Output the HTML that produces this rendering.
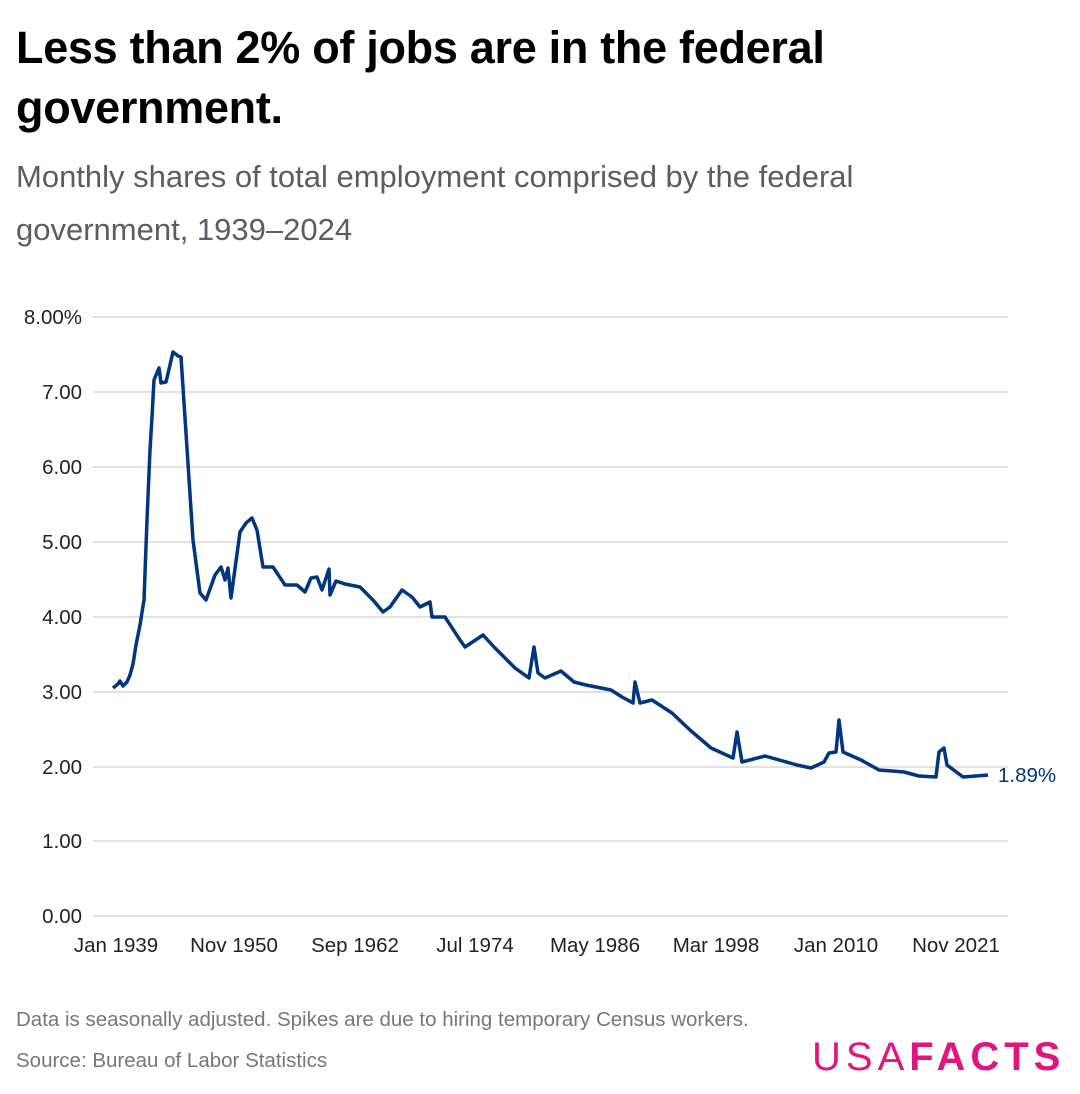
<!DOCTYPE html>
<html><head><meta charset="utf-8"><style>
body{margin:0;width:1080px;height:1094px;background:#fff;font-family:"Liberation Sans",sans-serif;overflow:hidden;position:relative}
.t{position:absolute;left:16px;top:18px;font-size:45px;font-weight:bold;line-height:60px;color:#000;letter-spacing:-0.3px}
.s{position:absolute;left:16px;top:150px;font-size:31px;line-height:53px;color:#5c5c66}
.f{position:absolute;left:16px;font-size:20.5px;color:#777}
</style></head><body>
<div class="t">Less than 2% of jobs are in the federal<br>government.</div>
<div class="s">Monthly shares of total employment comprised by the federal<br>government, 1939–2024</div>
<svg width="1080" height="1094" style="position:absolute;left:0;top:0" font-family="Liberation Sans, sans-serif">
<g stroke="#d9d9d9" stroke-width="1.5">
<line x1="93" x2="1008" y1="317" y2="317"/><line x1="93" x2="1008" y1="392" y2="392"/><line x1="93" x2="1008" y1="467" y2="467"/><line x1="93" x2="1008" y1="542" y2="542"/><line x1="93" x2="1008" y1="617" y2="617"/><line x1="93" x2="1008" y1="692" y2="692"/><line x1="93" x2="1008" y1="767" y2="767"/><line x1="93" x2="1008" y1="841" y2="841"/><line x1="93" x2="1008" y1="916" y2="916"/>
</g>
<g font-size="20.5" fill="#222" text-anchor="end">
<text x="82" y="324">8.00%</text><text x="82" y="399">7.00</text><text x="82" y="474">6.00</text><text x="82" y="549">5.00</text><text x="82" y="624">4.00</text><text x="82" y="699">3.00</text><text x="82" y="774">2.00</text><text x="82" y="848">1.00</text><text x="82" y="923">0.00</text>
</g>
<g font-size="20.5" fill="#222" text-anchor="middle">
<text x="116" y="952">Jan 1939</text><text x="234" y="952">Nov 1950</text><text x="355" y="952">Sep 1962</text><text x="475" y="952">Jul 1974</text><text x="595" y="952">May 1986</text><text x="716" y="952">Mar 1998</text><text x="836" y="952">Jan 2010</text><text x="956" y="952">Nov 2021</text>
</g>
<polyline fill="none" stroke="#003580" stroke-width="3.5" stroke-linejoin="round" points="113,688 118,684 120,681 123,686 127,682 130,675 133,664 136,645 140,625 144,600 147,520 150,450 152,417 154,380 159,368 161,383 166,382 173,352 178,356 181,357 186,433 193,540 200,593 206,600 215,575 221,567 225,580 228,568 231,598 240,532 246,523 252,518 257,530 263,567 273,567 285,585 297,585 305,592 311,578 317,577 322,590 329,569 330,595 336,581 345,584 360,587 373,600 383,612 390,607 402,590 412,597 420,607 430,602 432,617 445,617 460,640 465,647 483,635 494,647 515,668 529,678 534,647 538,673 545,678 561,671 574,682 586,685 611,690 622,697 633,703 635,682 640,703 652,700 672,713 690,730 711,748 733,758 737,732 742,762 765,756 797,765 811,768 824,762 829,753 836,752 839,720 843,752 861,760 879,770 904,772 919,776 936,777 939,752 944,748 947,765 963,777 976,776 988,775"/>
<text x="998" y="782" font-size="20.5" fill="#003580">1.89%</text>
<text x="812" y="1070" font-size="40" fill="#e0157e" letter-spacing="5">USA<tspan font-weight="bold">FACTS</tspan></text>
</svg>
<div class="f" style="top:1008px">Data is seasonally adjusted. Spikes are due to hiring temporary Census workers.</div>
<div class="f" style="top:1049px">Source: Bureau of Labor Statistics</div>
</body></html>
